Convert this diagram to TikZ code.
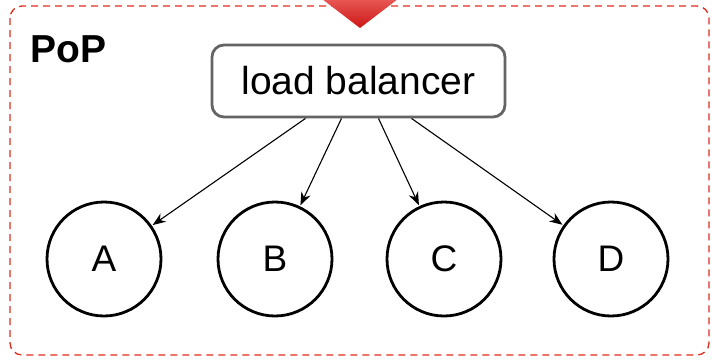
\documentclass[tikz,border=0pt]{standalone}
\usepackage{fontspec}
\setmainfont{Liberation Sans}
\usetikzlibrary{arrows.meta}
\definecolor{popred}{RGB}{222,45,30}
\definecolor{arrowtop}{RGB}{232,88,84}
\definecolor{arrowbot}{RGB}{204,22,22}
\definecolor{boxgray}{RGB}{100,100,100}
\tikzset{
  popframe/.style={draw=popred, line width=1.3pt, dash pattern=on 7pt off 5pt, rounded corners=12pt},
  lbbox/.style={draw=boxgray, line width=2.8pt, rounded corners=12pt, minimum width=293pt, minimum height=72pt, inner sep=0pt, font=\fontsize{39}{44}\selectfont},
  server/.style={circle, draw=black, line width=2.8pt, minimum size=114pt, inner sep=0pt, font=\fontsize{37}{42}\selectfont},
  link/.style={-{Stealth[length=13pt,width=10pt]}, line width=1.1pt, shorten >=1pt}
}
\begin{document}
\begin{tikzpicture}[x=1pt,y=-1pt]
  \useasboundingbox (0,0) rectangle (712,360);
  % dashed PoP frame
  \draw[popframe] (10,6) rectangle (709,355);
  % incoming traffic arrow, entering from the top
  \shade[top color=arrowtop, bottom color=arrowbot] (322,-1) -- (398,-1) -- (360,28) -- cycle;
  \node[anchor=base west, font=\fontsize{39}{44}\selectfont\bfseries] (pop) at (27,62) {PoP};
  \node[lbbox] (lb) at (358.5,81) {load balancer};
  \node[server] (a) at (104,259) {A};
  \node[server] (b) at (275,259) {B};
  \node[server] (c) at (444,259) {C};
  \node[server] (d) at (611,259) {D};
  \draw[link] ([xshift=-53pt]lb.south) -- (a);
  \draw[link] ([xshift=-17pt]lb.south) -- (b);
  \draw[link] ([xshift=20pt]lb.south) -- (c);
  \draw[link] ([xshift=53pt]lb.south) -- (d);
\end{tikzpicture}
\end{document}
